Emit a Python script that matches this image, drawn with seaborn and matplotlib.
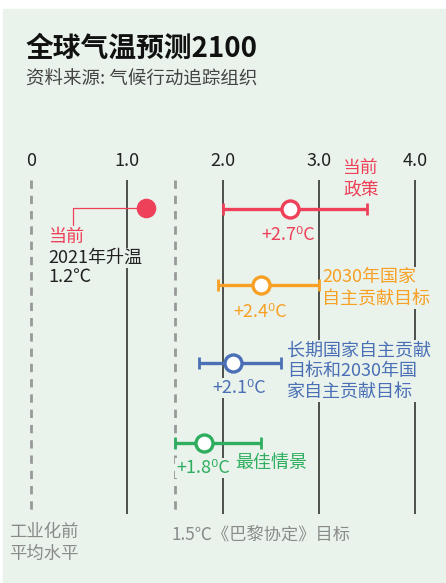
import pandas as pd
import seaborn as sns
import matplotlib.pyplot as plt
from matplotlib.patches import Rectangle

# Warming projections for 2100 (degrees C above pre-industrial)
scenarios = ['当前政策', '2030年国家自主贡献目标', '长期国家自主贡献目标和2030年国家自主贡献目标', '最佳情景']
central = [2.7, 2.4, 2.1, 1.8]
low = [2.0, 1.95, 1.75, 1.5]
high = [3.5, 3.0, 2.6, 2.4]
current_warming = 1.2
paris_target = 1.5
ticks = [0, 1.0, 2.0, 3.0, 4.0]
tick_labels = ['0', '1.0', '2.0', '3.0', '4.0']
colors = ['#ee4159', '#f7a024', '#4a6fb5', '#2fae5f']

df = pd.DataFrame({'scenario': scenarios, 'central': central, 'low': low, 'high': high})
df['row'] = [209, 285, 363, 443]   # vertical pixel position of each row

bg = '#e9f3ec'
sns.set_theme(style='white')
plt.rcParams['font.family'] = ['Noto Sans CJK SC', 'DejaVu Sans']

fig = plt.figure(figsize=(4.46, 5.83), dpi=100)
fig.patch.set_facecolor('white')
ax = fig.add_axes([0, 0, 1, 1])
# x in degrees (96 px per degree, 0 at px 31), y in pixels from the top
ax.set_xlim(-31 / 96, (446 - 31) / 96)
ax.set_ylim(583, 0)
ax.axis('off')


def px(x):
    return (x - 31) / 96


ax.add_patch(Rectangle((px(3), 9), 443 / 96, 574, color=bg, zorder=0))

# title
ax.text(px(26), 49, '全球气温预测2100', fontsize=20, weight='semibold', color='#111', va='center')
ax.text(px(26), 80, '资料来源: 气候行动追踪组织', fontsize=13.3, color='#444', va='center')

# grid lines
for t, lab in zip(ticks, tick_labels):
    ax.text(t, 161, lab, fontsize=13, color='#222', ha='center', va='center')
    if t == 0:
        ax.vlines(t, 180, 514, color='#999', lw=2, linestyles=(0, (3, 2.5)), zorder=1)
    else:
        ax.vlines(t, 180, 514, color='#333', lw=1.2, zorder=1)
ax.vlines(paris_target, 180, 514, color='#999', lw=2, linestyles=(0, (3, 2.5)), zorder=1)

# ranges
for i, r in df.iterrows():
    ax.errorbar(r['central'], r['row'], xerr=[[r['central'] - r['low']], [r['high'] - r['central']]],
                fmt='none', ecolor=colors[i], elinewidth=2.4, capsize=4.5, capthick=2, zorder=3)
    sns.scatterplot(x=[r['central']], y=[r['row']], color='white', edgecolor=colors[i],
                    linewidth=2.4, s=150, ax=ax, zorder=5)

# current warming
sns.scatterplot(x=[current_warming], y=[df['row'][0] - 1], color=colors[0], edgecolor=colors[0],
                s=170, ax=ax, zorder=5)
ax.plot([current_warming, px(73), px(73)], [208, 208, 225], color=colors[0], lw=0.9, zorder=4)

box = dict(facecolor=bg, edgecolor='none', pad=1)
ax.text(px(49), 237, '当前', fontsize=13, color=colors[0], va='center', bbox=box, zorder=6)
ax.text(px(48), 258, '2021年升温', fontsize=13, color='#222', va='center', bbox=box, zorder=6)
ax.text(px(48), 277, '1.2℃', fontsize=13, color='#222', va='center', bbox=box, zorder=6)

# scenario labels
ax.text(px(343), 179, '当前\n政策', fontsize=12.8, color=colors[0], va='center',
        linespacing=1.22, bbox=box, zorder=6)
ax.text(px(322), 288, '2030年国家\n自主贡献目标', fontsize=13, color=colors[1], va='center',
        linespacing=1.25, bbox=box, zorder=6)
ax.text(px(287), 371, '长期国家自主贡献\n目标和2030年国\n家自主贡献目标', fontsize=13,
        color=colors[2], va='center', linespacing=1.2, bbox=box, zorder=6)
ax.text(px(235), 463, '最佳情景', fontsize=13, color=colors[3], va='center', bbox=box, zorder=6)

# central values
value_pos = [(288, 235), (260, 312), (239, 388), (203, 468)]
for i, (xp, yp) in enumerate(value_pos):
    ax.text(px(xp), yp, f'+{central[i]:.1f}⁰C', fontsize=13, color=colors[i],
            ha='center', va='center', bbox=box, zorder=6)

# bottom notes
ax.text(px(9), 543, '工业化前\n平均水平', fontsize=12.5, color='#8a8a8a', va='center',
        linespacing=1.3, bbox=box, zorder=6)
ax.text(px(172), 536, '1.5℃《巴黎协定》目标', fontsize=12.4, color='#8a8a8a', va='center',
        bbox=box, zorder=6)

fig.savefig('out.png', dpi=100, facecolor='white')
